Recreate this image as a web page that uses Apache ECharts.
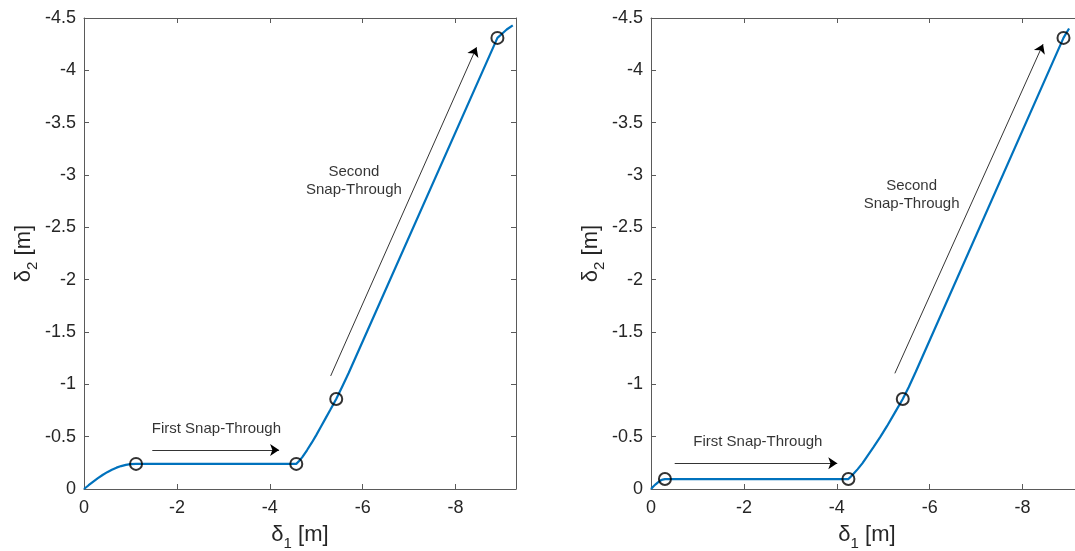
<!DOCTYPE html>
<html><head><meta charset="utf-8">
<script src="https://cdn.jsdelivr.net/npm/echarts@6/dist/echarts.min.js"></script>
<style>html,body{margin:0;padding:0;background:#fff}#c{width:1075px;height:551px}</style>
</head><body><div id="c"></div>
<script>
// ---- data ----
const leftX = [0,-0.1,-0.2,-0.3,-0.4,-0.5,-0.6,-0.7,-0.8,-0.9,-1.0,-1.12,-4.57,-4.62,-4.7,-4.8,-4.9,-5.0,-5.1,-5.2,-5.3,-5.43,-5.55,-5.7,-8.9,-9.0,-9.1,-9.23];
const leftY = [0,-0.036,-0.071,-0.104,-0.134,-0.161,-0.184,-0.204,-0.219,-0.231,-0.238,-0.24,-0.24,-0.262,-0.305,-0.37,-0.44,-0.515,-0.595,-0.675,-0.755,-0.86,-0.97,-1.11,-4.31,-4.35,-4.39,-4.43];
const rightX = [0,-0.05,-0.1,-0.15,-0.2,-0.25,-0.3,-4.25,-4.3,-4.36,-4.45,-4.55,-4.65,-4.79,-4.94,-5.08,-5.25,-5.42,-5.55,-5.7,-8.88,-9.0];
const rightY = [0,-0.024,-0.045,-0.064,-0.08,-0.09,-0.095,-0.095,-0.118,-0.145,-0.19,-0.245,-0.31,-0.40,-0.50,-0.60,-0.73,-0.86,-0.975,-1.12,-4.31,-4.40];
const leftMarkX = [-1.12,-4.57,-5.43,-8.9];
const leftMarkY = [-0.24,-0.24,-0.86,-4.31];
const rightMarkX = [-0.3,-4.25,-5.42,-8.88];
const rightMarkY = [-0.095,-0.095,-0.86,-4.31];
const annoText = ['First Snap-Through', 'Second\nSnap-Through'];
const leftAnnoPos = [[-2.85,-0.57],[-5.81,-2.94]];
const rightAnnoPos = [[-2.30,-0.446],[-5.61,-2.81]];
const leftArrows = [[[-1.47,-0.372],[-4.2,-0.372]],[[-5.31,-1.08],[-8.45,-4.22]]];
const rightArrows = [[[-0.51,-0.245],[-4.01,-0.245]],[[-5.25,-1.105],[-8.44,-4.25]]];
const xMin = -9.3, xMax = 0, xStep = 2;
const yMin = -4.5, yMax = 0, yStep = 0.5;
const xName = '{d|δ}{s|1}{n| [m]}';
const yName = '{d|δ}{s|2}{n| [m]}';

// ---- chart ----
const F = '"Liberation Sans", Arial, Helvetica, sans-serif';
const AX = '#5a5a5a', TXT = '#262626', BLUE = '#0072BD';
const nameRich = {
  d: {fontSize: 22, fontFamily: F, color: TXT},
  s: {fontSize: 15, fontFamily: F, color: TXT, verticalAlign: 'bottom', lineHeight: 32},
  n: {fontSize: 22, fontFamily: F, color: TXT}
};
const grids = [
  {left: 84, top: 18, width: 432, height: 471, containLabel: false, outerBoundsMode: 'none'},
  {left: 651, top: 18, width: 432, height: 471, containLabel: false, outerBoundsMode: 'none'}
];
const xAxes = [], yAxes = [];
grids.forEach((g, p) => {
  const common = {gridIndex: p, type: 'value', min: xMin, max: xMax, inverse: true,
    splitNumber: 5, minInterval: xStep, maxInterval: xStep, splitLine: {show: false},
    axisLine: {onZero: false, lineStyle: {color: AX, width: 1}},
    axisTick: {inside: true, length: 5, lineStyle: {color: AX}}};
  xAxes.push(Object.assign({}, common, {position: 'bottom',
    axisLabel: {color: TXT, fontSize: 18, fontFamily: F, margin: 10,
      formatter: v => (Math.abs(v % xStep) < 1e-9 ? String(v) : '')},
    name: xName, nameLocation: 'middle', nameGap: 30,
    nameTextStyle: {rich: nameRich}}));
  xAxes.push(Object.assign({}, common, {position: 'top', axisLabel: {show: false}}));
  const ycommon = {gridIndex: p, type: 'value', min: yMin, max: yMax, interval: yStep, inverse: true,
    splitLine: {show: false},
    axisLine: {onZero: false, lineStyle: {color: AX, width: 1}},
    axisTick: {inside: true, length: 5, lineStyle: {color: AX}}};
  yAxes.push(Object.assign({}, ycommon, {position: 'left',
    axisLabel: {color: TXT, fontSize: 18, fontFamily: F, margin: 8, formatter: v => String(v)},
    name: yName, nameLocation: 'middle', nameGap: 44,
    nameTextStyle: {rich: nameRich}}));
  yAxes.push(Object.assign({}, ycommon, {position: 'right', axisLabel: {show: false}}));
});

function zip(a, b) { return a.map((v, i) => [v, b[i]]); }
function panelSeries(p, xs, ys, mx, my, annoPos, arrows) {
  const xi = 2 * p, yi = 2 * p;
  return [
    {type: 'line', xAxisIndex: xi, yAxisIndex: yi, data: zip(xs, ys), showSymbol: false,
      smooth: false, lineStyle: {color: BLUE, width: 2.2}, z: 2, silent: true},
    {type: 'scatter', xAxisIndex: xi, yAxisIndex: yi, data: zip(mx, my), symbol: 'circle', symbolSize: 12,
      itemStyle: {color: 'rgba(0,0,0,0)', borderColor: '#000', borderWidth: 2}, z: 3, silent: true},
    {type: 'scatter', xAxisIndex: xi, yAxisIndex: yi, symbolSize: 1,
      itemStyle: {color: 'rgba(0,0,0,0)'}, silent: true, z: 4,
      data: annoPos.map((pt, i) => ({name: annoText[i], value: pt})),
      label: {show: true, position: 'inside', formatter: d => d.name, color: '#000', fontSize: 15,
        fontFamily: F, lineHeight: 18, align: 'center'},
      markLine: {silent: true, symbol: ['none', 'arrow'], symbolSize: 9, animation: false,
        label: {show: false}, lineStyle: {color: '#000', width: 0.8, type: 'solid'},
        data: arrows.map(a => [{coord: a[0]}, {coord: a[1]}])}}
  ];
}
const chart = echarts.init(document.getElementById('c'), null, {renderer: 'canvas'});
chart.setOption({
  animation: false,
  backgroundColor: '#fff',
  grid: grids,
  xAxis: xAxes,
  yAxis: yAxes,
  series: panelSeries(0, leftX, leftY, leftMarkX, leftMarkY, leftAnnoPos, leftArrows)
    .concat(panelSeries(1, rightX, rightY, rightMarkX, rightMarkY, rightAnnoPos, rightArrows))
});
</script></body></html>
